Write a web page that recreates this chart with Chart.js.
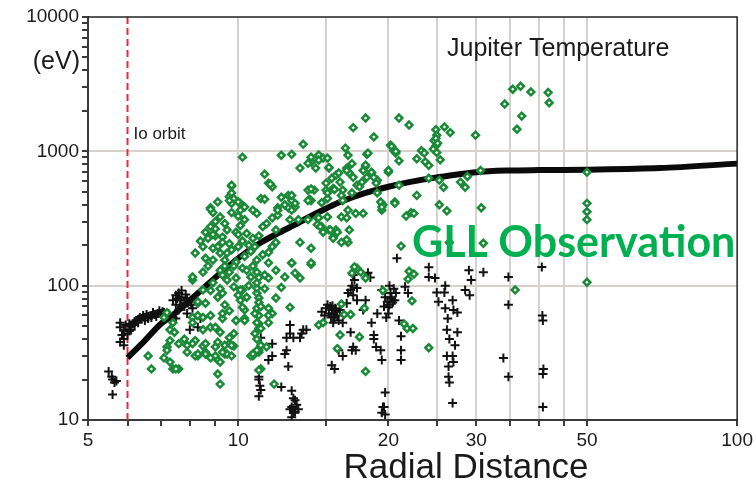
<!DOCTYPE html>
<html>
<head>
<meta charset="utf-8">
<script src="https://cdn.jsdelivr.net/npm/chart.js@4.4.1/dist/chart.umd.min.js"></script>
<style>
  html, body { margin: 0; padding: 0; background: #fff; }
  #wrap { width: 756px; height: 485px; }
</style>
</head>
<body>
<div id="wrap"><canvas id="chart" width="756" height="485"></canvas></div>
<script>
// Radial distance (R_J) vs plasma temperature (eV)

// Io orbit position
const ioOrbitR = 6;

// model curve (thick black line)
const modelR = [6, 6.5, 7, 7.5, 8, 8.5, 9, 10, 11, 12, 13, 14, 15, 16, 18, 20, 22, 25, 30, 35, 40, 50, 70, 100];
const modelT = [29, 39, 52, 63, 78, 95, 115, 160, 205, 245, 285, 330, 375, 420, 490, 545, 590, 640, 700, 720, 725, 730, 750, 810];

// GLL observations (green diamonds) as [R, T]
const gllObs = [
  [6.6,30],[6.7,24],[7.1,29],[7.2,35],[7.2,33],[7.3,27],[7.4,24],[7.6,24],[7.3,39],[7.5,24],[7.9,32],[8.3,30],
  [8.6,32],[9.1,28],[9.1,22],[9.2,18.5],[7.2,63],[7.1,58],[7.4,53],[7.3,47],[7.45,45],[7.8,40],[7.6,37],[7.9,36],
  [8.2,39],[8.5,35.5],[8.2,30],[8.1,58],[8.3,74],[8.5,58],[8.8,49],[9.1,38],[9.0,30],[9.4,31],[9.6,37],[9.8,44],
  [9.9,55],[10.2,93],[10.3,66],[9.8,35.5],[9.5,31],[8.1,37],[8.6,37],[9,35],[9.4,36],[9.6,41],[9.7,36],[9.3,32],
  [8.3,31],[8.6,31],[9.2,27],[8.8,29],[9.7,30],
  [10.7,30],[11,32],[11.1,24],[11.4,35],[11.8,18.5],[12.7,69],[11.9,81],[12.2,97],[12.8,147],[13.3,114],[14,190],
  [14,144],[14.5,51],[14.8,53],[15.8,34],[16,43],[16.8,61],[16.9,124],[17.3,135],[18,114],[18,23],[16.6,210],
  [19.5,92],[17.9,68],[17.5,41.5],[16.1,73],[16.3,61],[11,23.5],[10.6,30],[11,33],[11.5,53],[11.7,62],[11.5,68],
  [10.3,57],[10.2,69],[10.9,88],[11,52],[11,48],[10.9,68],[11,60],[10.9,53],[11.1,48],[11.5,60],
  [8.1,110],[8.5,126],[8.5,93],[8.9,105],[9.1,82],[8.3,76],[8.6,74],[8.8,60],[8.3,60],[8.1,53],[8.5,47],[9.0,49],
  [9.3,57],[9.6,126],[9.9,114],[10.2,135],[10.6,116],[10.9,126],[10.1,93],[10.4,82],[10.1,78],[10.9,96],[11,81],
  [11.5,114],[11.9,130],[12.4,116],[13,124],[9.9,55],[10.3,55],[10.7,31],[10.9,33],[11.1,36],
  [9.7,550],[11.5,580],[11.7,545],[9.1,420],[8.8,380],[8.9,350],[9.6,460],[9.7,410],[10.1,410],[10.3,385],
  [10.7,365],[11.1,445],[10.9,345],[12,380],[12,335],[12.6,470],[12.8,430],[13,385],[12.6,380],[13.8,515],
  [14.2,515],[14,430],[15,580],[15,515],[15.5,530],[15.1,445],[14.7,415],[14.4,320],[14.7,275],[15.2,260],
  [15.5,230],[15.7,260],[13.8,310],[13.2,310],[13.3,210],[14,148],[12.8,148],[11.9,210],[11.7,195],[11.4,290],
  [11.9,260],[8.8,275],[8.5,195],[8.6,160],[9.1,195],[9.3,230],[9.4,290],[10,330],[10.3,310],[10.4,245],
  [10.7,225],[11,235],[11.2,275],[10.8,195],[10,195],[10.3,165],[10.9,155],[11.5,148],[11.5,177],[9.6,205],
  [9.2,175],[8.9,155],[9.9,150],[9.4,155],[9,235],[9.2,325],[8.7,225],[9.8,445],[10.1,365],[8.2,175],[8.1,116],
  [9.6,430],[9.7,490],[10,420],[9.7,350],
  [8.7,140],[9.2,130],[9.5,110],[9.8,98],[10,85],[9.4,72],[9.6,65],[9.3,88],[8.8,92],[9.9,250],[10.1,280],
  [9.5,260],[9.0,300],[8.6,250],[8.4,215],[10.5,200],[10.6,180],[9.7,185],[9.3,210],[10.2,215],[8.9,190],
  [9.8,140],[10.4,130],[10.7,140],[9.5,175],[10.0,240],[9.0,265],[8.9,240],[11.2,170],[11.3,120],[10.5,100],
  [11.3,95],[9.2,45],[9.3,62],[9.2,95],[9.3,120],[9.4,140],[10.9,40],[10.8,44],[11,75],[10.9,105],[11,115],
  [10.8,62],[11.1,70],
  [18,1770],[17,1500],[18.7,1280],[13.5,1130],[10.2,905],[12.2,935],[12.8,950],[16.4,1057],[18.1,950],
  [16.6,935],[13.3,750],[11.3,676],[9.7,560],[8.8,371],[11.6,570],[11.3,440],[12.8,470],[20.2,1110],[20.7,970],
  [18.2,970],[14,830],[14.5,940],[14.3,750],[14.8,890],[15.2,750],[15.7,665],[16.5,750],[16.9,810],[16.7,690],
  [18,770],[18.5,690],[19,610],[20,700],[16,590],[16.2,515],[17,640],[17.3,560],[17.7,590],[19,490],[19.5,400],
  [19.4,365],[20.6,420],[16.1,470],[16.6,365],[17.2,345],[17.8,345],[16.1,325],[16.5,320],[14.8,250],[15.3,260],
  [15.8,250],[16.7,260],[15.5,225],[16.1,210],[16.5,220],[15.1,325],[17.1,138],[17.6,126],[13,410],[12.4,400],
  [12,365],[12.8,365],[13.9,440],[11.7,320],[12.7,310],[14.5,320],[14.4,285],[14.6,275],[14,525],[13.8,430],
  [16.2,430],[16.9,490],[17.5,545],[18.1,640],[15.9,690],[16.5,720],[15.2,760],[15.4,630],[17.8,720],[18,790],
  [18.9,580],[14.5,860],[13.8,815],[14,905],[15.1,890],[18.5,700],[18.7,640],[19.3,420],[19.4,385],[12.2,455],
  [15.1,490],[15.6,520],
  [34.2,2250],[35.5,2900],[36.8,3050],[38.6,2770],[41.8,2740],[42,2300],[37,1830],[36.2,1460],[29.9,1320],
  [21,1770],[22,1570],[25.9,1520],[26.6,1380],[24.9,1450],[25,1320],[24.7,1200],[24.9,1100],[24.6,1040],[25,980],
  [20.3,1090],[20.5,1010],[20.7,1000],[23.3,1010],[23.6,970],[22.8,880],[23.7,835],[24.1,785],[25.4,865],[21,850],
  [20,720],[30.6,720],[50,700],[21,560],[24.1,630],[25.3,610],[25.8,540],[27.9,590],[28.5,540],[28.8,650],
  [22.8,470],[20.6,410],[25.3,400],[26.2,360],[30.7,380],[21.7,330],[22.2,350],[22.5,345],[50,410],[50,355],
  [50,310],[21.2,197],[26.5,210],[31,207],[22,128],[22.5,122],[21.9,112],[22.3,77],[21.5,52],[21.8,48],[22.4,48],
  [24.1,34.5],[35.9,93],[50,106],[24.9,1250],[25.1,1150]
];

// other measurements (black crosses) as [R, T]
const crossObs = [
  [5.5,23],[5.6,20],[5.7,19.5],[5.6,15.5],[5.58,21],[5.65,19],
  [5.8,49],[5.9,47],[5.8,38],[5.9,36],[5.85,43],[5.8,53],[5.95,51],[5.9,40],
  [6.05,46],[6.1,50],[6.15,52],[6.2,54],[6.25,55],[6.3,56],[6.4,57],[6.5,58],[6.6,59],[6.7,60],[6.8,61],
  [6.9,62],[7.0,62],[7.1,61],[7.2,60],[7.3,59],[7.4,58],[7.5,57],[6.45,60],[6.75,63],[7.05,64],
  [6.0,44],[6.05,52],[6.1,47],[6.2,51],[6.3,53],[6.35,58],[6.5,55],[6.55,61],[6.6,57],[6.7,58],[6.85,59],
  [6.95,65],[7.1,63],[7.2,58],[7.25,62],[7.35,57],
  [7.4,78],[7.5,72],[7.7,82],[7.8,74],[7.6,66],[7.5,85],[7.6,88],[7.8,70],[7.9,80],[8.0,76],[8.4,57],[8.3,49],
  [8.0,47],[7.7,92],[8.1,68],[7.9,62],[7.65,78],[7.7,70],[7.85,86],[7.55,80],[8.05,72],
  [12.7,51],[12.7,44],[12.5,41],[12.9,41],[13.3,41],[13.5,47],[13.7,47],[13.4,44],[12.5,33],[12.4,31],[12.6,25],
  [12.2,17.6],[12.8,16.5],[12.9,14.5],[13,14],[12.8,12.5],[12.9,11.3],[12.8,10.5],[13,11.5],[12.7,12],[11.1,16.7],
  [11,15],[11,21],[11,20],[11.1,41],[11.7,37],[11.7,30],[11.5,28],[13.1,13],[13.2,12],[11.05,18],
  [14.7,64],[15.1,72],[15.4,66],[15.6,58],[15.9,55],[15.2,62],[15.7,64],[15.5,53],[16.2,53],[16.5,74],[16.8,93],
  [17,85],[17.3,96],[16.8,45],[17,35],[17.2,33],[16.9,33],[15.9,33],[16.2,30],[15.6,24],[15.4,25.6],[15.0,68],
  [15.3,70],[15.8,60],[16.0,66],[14.9,60],[16.9,100],[17.1,110],[17.3,78],[16.6,88],[17,120],
  [15.5,62],[15.35,58],[15.65,68],[15.45,71],
  [18,78],[17.8,66],[18.5,53],[18.7,43],[18.9,35],[19.3,33],[19.4,28],[19.6,12.5],[19.7,11],[19.4,93],[19.7,82],
  [19,62],[20.2,88],[20,69],[20.2,82],[20.4,75],[20.7,88],[20,62],[21,55],[21.2,42],[21.2,33],[21.2,28],
  [20.8,160],[21.6,98],[21.9,88],[19.5,12.5],[19.4,11.3],[19.7,16],[18.7,40],[19.6,70],[19.9,76],[20.5,95],
  [20.1,100],[19.8,58],[18.2,125],[18.4,115],[20.3,80],[20.6,78],[20.1,72],
  [24.1,137],[24.8,114],[25,89],[25.2,76],[25.9,89],[26,68],[26.3,57],[26.2,47],[26.9,78],[27,66],[27.5,63],
  [26.2,30],[26.9,30],[27,27],[26.4,25],[26.4,21],[26.5,19],[26.9,13.4],[27.2,36],[29,130],[29.3,110],[28.5,93],
  [29.1,85],[31,126],[34.8,116],[34.8,72],[34,29],[34.8,21],[40.6,138],[40.8,55],[40.8,22],[40.8,12.5],
  [24.1,116],[26.5,40],[27.5,45],[26,100],[40.7,60],[40.9,24]
];

// axes
const xTicks = [5, 6, 7, 8, 9, 10, 15, 20, 25, 30, 35, 40, 45, 50, 100];
const xLabels = [5, 10, 20, 30, 50, 100];
const xGrid = [10, 15, 20, 25, 30, 35, 40, 45, 50];
const yTicks = [10, 20, 30, 40, 50, 60, 70, 80, 90, 100, 200, 300, 400, 500, 600, 700, 800, 900,
                1000, 2000, 3000, 4000, 5000, 6000, 7000, 8000, 9000, 10000];
const yLabels = [10, 100, 1000, 10000];
const yGrid = [100, 1000];

const GRID = '#d6d1cd';
const AXIS = '#3a3a3a';
const GREEN = '#1b8a38';

const toPts = arr => arr.map(p => ({ x: p[0], y: p[1] }));

// texts drawn on top
const annotations = {
  id: 'annotations',
  afterDraw(chart) {
    const { ctx, chartArea: a } = chart;
    ctx.save();
    // frame top/right
    ctx.strokeStyle = '#222';
    ctx.lineWidth = 1.5;
    ctx.beginPath();
    ctx.moveTo(a.left, a.top);
    ctx.lineTo(a.right, a.top);
    ctx.lineTo(a.right, a.bottom);
    ctx.stroke();

    ctx.fillStyle = '#1a1a1a';
    ctx.textBaseline = 'alphabetic';
    ctx.textAlign = 'right';
    ctx.font = '25px "Liberation Sans", Arial, sans-serif';
    ctx.fillText('(eV)', 80, 69);

    ctx.textAlign = 'left';
    ctx.font = '25px "Liberation Sans", Arial, sans-serif';
    ctx.fillText('Jupiter Temperature', 447, 56);

    ctx.font = '17px "Liberation Sans", Arial, sans-serif';
    const xIo = chart.scales.x.getPixelForValue(ioOrbitR);
    ctx.fillText('Io orbit', xIo + 6, 139);

    ctx.textAlign = 'center';
    ctx.font = '35px "Liberation Sans", Arial, sans-serif';
    ctx.fillText('Radial Distance', 466, 478);

    ctx.textAlign = 'left';
    ctx.fillStyle = '#00b050';
    ctx.font = 'bold 43px Lato, "Open Sans", sans-serif';
    ctx.fillText('GLL Observation', 412, 257);
    ctx.restore();
  }
};

new Chart(document.getElementById('chart'), {
  type: 'scatter',
  data: {
    datasets: [
      {
        label: 'GLL',
        data: toPts(gllObs),
        pointStyle: 'rectRot',
        pointRadius: 3.4,
        pointBorderWidth: 2.5,
        borderColor: GREEN,
        backgroundColor: 'rgba(255,255,255,0.95)',
        order: 0
      },
      {
        label: 'other',
        data: toPts(crossObs),
        pointStyle: 'cross',
        pointRadius: 4.5,
        pointBorderWidth: 2,
        borderColor: '#111',
        backgroundColor: '#111',
        order: 1
      },
      {
        label: 'model',
        data: modelR.map((r, i) => ({ x: r, y: modelT[i] })),
        showLine: true,
        pointRadius: 0,
        borderColor: '#0a0a0a',
        borderWidth: 6,
        tension: 0.3,
        order: 2
      },
      {
        label: 'Io orbit',
        data: [{ x: ioOrbitR, y: 10 }, { x: ioOrbitR, y: 10000 }],
        showLine: true,
        pointRadius: 0,
        borderColor: '#e8283c',
        borderWidth: 2,
        borderDash: [7, 4],
        order: 3
      }
    ]
  },
  options: {
    responsive: false,
    animation: false,
    devicePixelRatio: 1,
    layout: { padding: { top: 17, right: 17, left: 0, bottom: 0 } },
    plugins: { legend: { display: false }, tooltip: { enabled: false } },
    scales: {
      x: {
        type: 'logarithmic',
        min: 5, max: 100,
        afterBuildTicks: s => { s.ticks = xTicks.map(v => ({ value: v })); },
        afterFit: s => { s.height = 65; },
        border: { display: true, color: AXIS, width: 2 },
        grid: {
          color: c => xGrid.includes(c.tick && c.tick.value) ? GRID : 'rgba(0,0,0,0)',
          lineWidth: 2,
          tickColor: AXIS,
          tickLength: 6,
          drawTicks: true
        },
        ticks: {
          autoSkip: false,
          maxRotation: 0,
          padding: 3,
          color: '#1a1a1a',
          font: { family: '"Liberation Sans", Arial, sans-serif', size: 19 },
          callback: v => xLabels.includes(v) ? String(v) : ''
        }
      },
      y: {
        type: 'logarithmic',
        min: 10, max: 10000,
        afterBuildTicks: s => { s.ticks = yTicks.map(v => ({ value: v })); },
        afterFit: s => { s.width = 88; },
        border: { display: true, color: AXIS, width: 2 },
        grid: {
          color: c => yGrid.includes(c.tick && c.tick.value) ? GRID : 'rgba(0,0,0,0)',
          lineWidth: 2,
          tickColor: AXIS,
          tickLength: 6,
          drawTicks: true
        },
        ticks: {
          autoSkip: false,
          padding: 3,
          color: '#1a1a1a',
          font: { family: '"Liberation Sans", Arial, sans-serif', size: 19 },
          callback: v => yLabels.includes(v) ? String(v) : ''
        }
      }
    }
  },
  plugins: [annotations]
});
</script>
</body>
</html>
